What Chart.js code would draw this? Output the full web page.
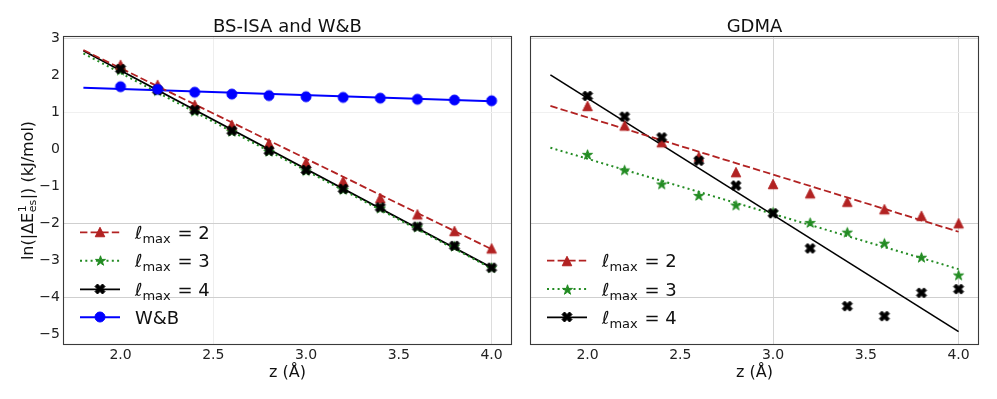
<!DOCTYPE html>
<html><head><meta charset="utf-8">
<script src="https://cdn.jsdelivr.net/npm/chart.js@4/dist/chart.umd.min.js"></script>
<style>
html,body{margin:0;padding:0;background:#fff;}
body{width:997px;height:399px;overflow:hidden;position:relative;}
canvas{position:absolute;top:0;}
</style></head><body>
<canvas id="c1" width="520" height="399" style="left:0px"></canvas>
<canvas id="c2" width="477" height="399" style="left:520px"></canvas>
<script>
// ---------- data ----------
const zValues = [2.0, 2.2, 2.4, 2.6, 2.8, 3.0, 3.2, 3.4, 3.6, 3.8, 4.0];
const fitZ = [1.8, 4.0];

// BS-ISA and W&B panel
const isaL2 = [2.28, 1.74, 1.20, 0.66, 0.16, -0.36, -0.86, -1.32, -1.76, -2.21, -2.68];
const isaL3 = [2.14, 1.58, 1.03, 0.48, -0.06, -0.58, -1.09, -1.59, -2.10, -2.62, -3.20];
const isaL4 = [2.17, 1.60, 1.06, 0.50, -0.04, -0.56, -1.07, -1.57, -2.09, -2.61, -3.20];
const wbVals = [1.69, 1.62, 1.54, 1.49, 1.45, 1.42, 1.40, 1.38, 1.35, 1.33, 1.31];
const isaFitL2 = [2.68, -2.70];
const isaFitL3 = [2.59, -3.22];
const isaFitL4 = [2.66, -3.20];
const wbFit = [1.66, 1.30];

// GDMA panel
const gdmaL2 = [1.17, 0.64, 0.19, -0.20, -0.62, -0.94, -1.19, -1.42, -1.62, -1.80, -2.00];
const gdmaL3 = [-0.14, -0.56, -0.94, -1.25, -1.51, -1.70, -1.98, -2.24, -2.54, -2.92, -3.40];
const gdmaL4 = [1.44, 0.88, 0.32, -0.31, -0.98, -1.73, -2.68, -4.24, -4.51, -3.88, -3.78];
const gdmaFitL2 = [1.17, -2.23];
const gdmaFitL3 = [0.04, -3.24];
const gdmaFitL4 = [2.01, -4.93];

// ticks / labels
const xTickValues = [2.0, 2.5, 3.0, 3.5, 4.0];
const yTickValues = [-5, -4, -3, -2, -1, 0, 1, 2, 3];
const titles = ['BS-ISA and W&B', 'GDMA'];
const xLabel = 'z (Å)';
const legendLabels = ['2', '3', '4'];
const wbLabel = 'W&B';

// ---------- styles ----------
const RED = '#B22222', GREEN = '#228B22', BLACK = '#000000', BLUE = '#0000FF';
const FONT = '"DejaVu Sans", sans-serif';

function makeMarker(shape, color, size) {
  const pad = 2, s = Math.ceil(size + pad * 2);
  const c = document.createElement('canvas'); c.width = s; c.height = s;
  const g = c.getContext('2d');
  g.translate(s / 2, s / 2);
  g.fillStyle = color; g.strokeStyle = color; g.lineWidth = 1; g.lineJoin = 'miter';
  const h = size / 2;
  g.beginPath();
  if (shape === 'circle') { g.arc(0, 0, h, 0, Math.PI * 2); }
  else if (shape === 'triangle') { g.moveTo(0, -h); g.lineTo(h, h); g.lineTo(-h, h); g.closePath(); }
  else if (shape === 'star') {
    for (let i = 0; i < 10; i++) {
      const r = i % 2 ? h * 0.381966 : h;
      const a = -Math.PI / 2 + i * Math.PI / 5;
      const px = r * Math.cos(a), py = r * Math.sin(a) + h * 0.1;
      if (i) g.lineTo(px, py); else g.moveTo(px, py);
    }
    g.closePath();
  } else if (shape === 'X') {
    const pts = [[-1,-2],[0,-1],[1,-2],[2,-1],[1,0],[2,1],[1,2],[0,1],[-1,2],[-2,1],[-1,0],[-2,-1]];
    pts.forEach((p, i) => { const px = p[0] * size / 4, py = p[1] * size / 4; if (i) g.lineTo(px, py); else g.moveTo(px, py); });
    g.closePath();
  }
  g.fill(); g.stroke();
  return c;
}
const mTri = makeMarker('triangle', RED, 9.5);
const mStar = makeMarker('star', GREEN, 10.5);
const mX = makeMarker('X', BLACK, 10);
const mCircle = makeMarker('circle', BLUE, 10);

const DASH = [7.4, 3.2], DOT = [2, 3.3];

function pts(xs, ys) { return xs.map((x, i) => ({ x: x, y: ys[i] })); }
function lineDs(ys, color, dash, w) {
  return { type: 'line', data: pts(fitZ, ys), borderColor: color, borderWidth: w, borderDash: dash,
    pointRadius: 0, fill: false, tension: 0, order: 5 };
}
function markDs(ys, img, ord) {
  return { type: 'line', data: pts(zValues, ys), showLine: false, pointStyle: img,
    pointRadius: 5, borderColor: 'transparent', backgroundColor: 'transparent', order: ord };
}

const yGridColors = { '3': '#d4d4d4', '1': '#f0f0f0', '-2': '#cfcfcf', '-4': '#cfcfcf' };
function gridColor(map) {
  return ctx => (ctx.tick && map[String(ctx.tick.value)]) ? map[String(ctx.tick.value)] : 'rgba(0,0,0,0)';
}

function drawLegend(ctx, items, x0, textX, rows) {
  items.forEach((it, i) => {
    const y = rows[i];
    ctx.save();
    ctx.strokeStyle = it.color; ctx.lineWidth = it.width; ctx.setLineDash(it.dash);
    ctx.beginPath(); ctx.moveTo(x0, y); ctx.lineTo(x0 + 40, y); ctx.stroke();
    ctx.setLineDash([]);
    ctx.drawImage(it.img, Math.round(x0 + 20 - it.img.width / 2), Math.round(y - it.img.height / 2));
    ctx.fillStyle = '#111'; ctx.textBaseline = 'alphabetic'; ctx.textAlign = 'left';
    const base = y + 6.5;
    if (it.lmax) {
      let x = textX;
      ctx.font = 'italic 18px ' + FONT; ctx.fillText('\u2113', x, base); x += ctx.measureText('\u2113').width;
      ctx.font = '13px ' + FONT; ctx.fillText('max', x, base + 4); x += ctx.measureText('max').width;
      ctx.font = '18px ' + FONT; ctx.fillText(' = ' + it.lmax, x + 1, base);
    } else {
      ctx.font = '18px ' + FONT; ctx.fillText(it.text, textX, base);
    }
    ctx.restore();
  });
}

function panelPlugin(idx) {
  return {
    id: 'panel' + idx,
    afterDraw(chart) {
      const ctx = chart.ctx, a = chart.chartArea;
      ctx.save();
      // frame
      ctx.strokeStyle = '#3a3a3a'; ctx.lineWidth = 1.1;
      ctx.strokeRect(a.left + 0.5, a.top + 0.5, a.right - a.left - 1, a.bottom - a.top - 1);
      const cx = (a.left + a.right) / 2;
      // title
      ctx.fillStyle = '#111'; ctx.textAlign = 'center'; ctx.textBaseline = 'alphabetic';
      ctx.font = '18px ' + FONT; ctx.fillText(titles[idx], cx, 32);
      // x label
      ctx.font = '16px ' + FONT; ctx.fillText(xLabel, cx, 377);
      // y label
      if (idx === 0) {
        ctx.save();
        ctx.translate(33, (a.top + a.bottom) / 2);
        ctx.rotate(-Math.PI / 2);
        ctx.textAlign = 'left';
        const big = '16px ' + FONT, small = '11px ' + FONT;
        ctx.font = big; const w1 = ctx.measureText('ln(|\u0394E').width;
        ctx.font = small; const ws = Math.max(ctx.measureText('1').width, ctx.measureText('es').width);
        ctx.font = big; const w2 = ctx.measureText('|) (kJ/mol)').width;
        let x = -(w1 + ws + w2 + 1) / 2;
        ctx.font = big; ctx.fillText('ln(|\u0394E', x, 0); x += w1 + 0.5;
        ctx.font = small; ctx.fillText('1', x, -7); ctx.fillText('es', x, 3); x += ws + 0.5;
        ctx.font = big; ctx.fillText('|) (kJ/mol)', x, 0);
        ctx.restore();
      }
      // legend
      const base = [
        { color: RED, width: 1.8, dash: DASH, img: mTri, lmax: legendLabels[0] },
        { color: GREEN, width: 2, dash: DOT, img: mStar, lmax: legendLabels[1] },
        { color: BLACK, width: 1.8, dash: [], img: mX, lmax: legendLabels[2] }
      ];
      if (idx === 0) {
        base.push({ color: BLUE, width: 2, dash: [], img: mCircle, text: wbLabel });
        drawLegend(ctx, base, 80, 135, [232.3, 260.7, 289.3, 317.3]);
      } else {
        drawLegend(ctx, base, 547 - 520, 602 - 520, [260.7, 289, 317.3]);
      }
      ctx.restore();
    }
  };
}

function makeChart(id, idx, datasets, xGridMap) {
  const left = idx === 0;
  return new Chart(document.getElementById(id), {
    type: 'line',
    data: { datasets: datasets },
    options: {
      responsive: false, animation: false, devicePixelRatio: 1,
      layout: { padding: { left: 0, top: 36, right: left ? 8 : 18, bottom: 0 } },
      plugins: { legend: { display: false }, tooltip: { enabled: false }, title: { display: false } },
      scales: {
        x: {
          type: 'linear', min: 1.69, max: 4.11,
          afterBuildTicks: s => { s.ticks = xTickValues.map(v => ({ value: v })); },
          afterFit: s => { s.height = 54; },
          ticks: { font: { family: FONT, size: 14 }, color: '#222', padding: 2, maxRotation: 0, autoSkip: false,
            callback: v => Number(v).toFixed(1) },
          grid: { drawTicks: false, color: gridColor(xGridMap), lineWidth: 1 },
          border: { display: false }
        },
        y: {
          type: 'linear', min: -5.29, max: 3.06,
          afterBuildTicks: s => { s.ticks = yTickValues.map(v => ({ value: v })); },
          afterFit: s => { s.width = left ? 63 : 10; },
          ticks: { display: left, font: { family: FONT, size: 14 }, color: '#222', padding: 3, autoSkip: false,
            callback: v => (v < 0 ? '\u2212' + Math.abs(v) : String(v)) },
          grid: { drawTicks: false, color: gridColor(yGridColors), lineWidth: 1 },
          border: { display: false }
        }
      }
    },
    plugins: [panelPlugin(idx)]
  });
}

// lower "order" is drawn on top: circles > X > triangles > stars > lines
makeChart('c1', 0, [
  lineDs(isaFitL2, RED, DASH, 1.8),
  lineDs(isaFitL3, GREEN, DOT, 2),
  lineDs(isaFitL4, BLACK, [], 1.8),
  lineDs(wbFit, BLUE, [], 2),
  markDs(isaL2, mTri, 3),
  markDs(isaL3, mStar, 4),
  markDs(isaL4, mX, 2),
  markDs(wbVals, mCircle, 1)
], { '2.5': '#eeeeee', '4': '#dddddd' });

makeChart('c2', 1, [
  lineDs(gdmaFitL2, RED, DASH, 1.8),
  lineDs(gdmaFitL3, GREEN, DOT, 2),
  lineDs(gdmaFitL4, BLACK, [], 1.6),
  markDs(gdmaL2, mTri, 3),
  markDs(gdmaL3, mStar, 4),
  markDs(gdmaL4, mX, 2)
], { '3': '#d4d4d4', '4': '#d4d4d4' });
</script>
</body></html>
